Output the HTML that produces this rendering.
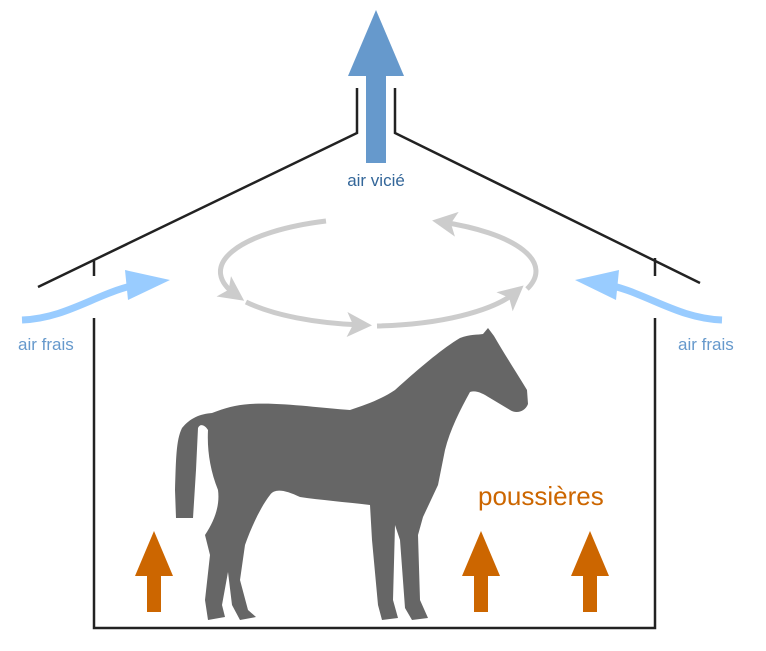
<!DOCTYPE html>
<html><head><meta charset="utf-8"><style>
html,body{margin:0;padding:0;background:#fff;}
svg{display:block;}
text{font-family:"Liberation Sans",sans-serif;}
</style></head><body>
<svg width="766" height="651" viewBox="0 0 766 651" xmlns="http://www.w3.org/2000/svg">
<defs>
<marker id="g" markerWidth="6" markerHeight="6" refX="3" refY="3" orient="auto" markerUnits="strokeWidth">
<path d="M0,0.5 L5,3 L0,5.5 L1.2,3 Z" fill="#cccccc"/></marker>
</defs>
<g stroke="#222" stroke-width="2.5" fill="none">
<polyline points="38,287 357,133 357,88"/>
<polyline points="395,88 395,133 700,283"/>
<line x1="94" y1="261" x2="94" y2="276"/>
<line x1="655" y1="258" x2="655" y2="276"/>
<polyline points="94,318 94,628 655,628 655,318"/>
</g>
<!-- exhaust arrow -->
<rect x="366" y="74" width="20" height="89" fill="#6699cc"/>
<polygon points="348,76 404,76 376,10" fill="#6699cc"/>
<text x="376" y="186" font-size="17" fill="#336699" text-anchor="middle">air vicié</text>
<!-- fresh air -->
<path d="M22,320 C70,318 100,290 145,283" stroke="#99ccff" stroke-width="7" fill="none"/>
<polygon points="125,270 170,280 128,300" fill="#99ccff"/>
<path d="M722,320 C674,318 644,290 599,283" stroke="#99ccff" stroke-width="7" fill="none"/>
<polygon points="619,270 575,280 616,300" fill="#99ccff"/>
<text x="18" y="350" font-size="17" fill="#6699cc">air frais</text>
<text x="678" y="350" font-size="17" fill="#6699cc">air frais</text>
<!-- circulation -->
<g stroke="#cccccc" stroke-width="5" fill="none">
<path d="M326,221 A160,54 0 0 0 236,295" marker-end="url(#g)"/>
<path d="M246,302 A160,54 0 0 0 362,325" marker-end="url(#g)"/>
<path d="M377,326 A160,54 0 0 0 516,292" marker-end="url(#g)"/>
<path d="M527,289 A160,54 0 0 0 442,222" marker-end="url(#g)"/>
</g>
<!-- horse -->
<path fill="#666" d="M488,328 L494,336 C505,355 518,375 527,390 L528,404 C525,412 516,414 510,410 L490,398 C482,393 476,390 470,392 C460,410 450,430 445,450 L438,485 L423,517 L418,535 L420,600 L428,618 L412,620 L405,608 L400,540 L395,525 L393,600 L398,618 L382,620 L378,605 L372,540 L370,505 C345,502 320,500 300,497 C285,490 275,488 270,495 C262,505 252,525 245,545 L240,580 L248,610 L256,617 L240,620 L232,605 L228,572 L222,605 L225,617 L208,620 L205,600 L210,555 L205,535 C215,520 220,505 218,490 C210,470 207,450 208,430 C205,425 200,423 198,428 L196,470 L193,518 L176,518 L175,490 C176,460 176,440 182,428 C190,418 200,414 212,413 C225,408 235,405 250,404 C280,402 320,408 350,410 C365,405 380,400 395,390 C415,372 440,350 460,338 C470,334 478,335 483,334 Z"/>
<!-- dust -->
<text x="478" y="505" font-size="26" fill="#cc6600">poussières</text>
<g fill="#cc6600">
<rect x="147" y="574" width="14" height="38"/><polygon points="135,576 173,576 154,531"/>
<rect x="474" y="574" width="14" height="38"/><polygon points="462,576 500,576 481,531"/>
<rect x="583" y="574" width="14" height="38"/><polygon points="571,576 609,576 590,531"/>
</g>
</svg>
</body></html>
